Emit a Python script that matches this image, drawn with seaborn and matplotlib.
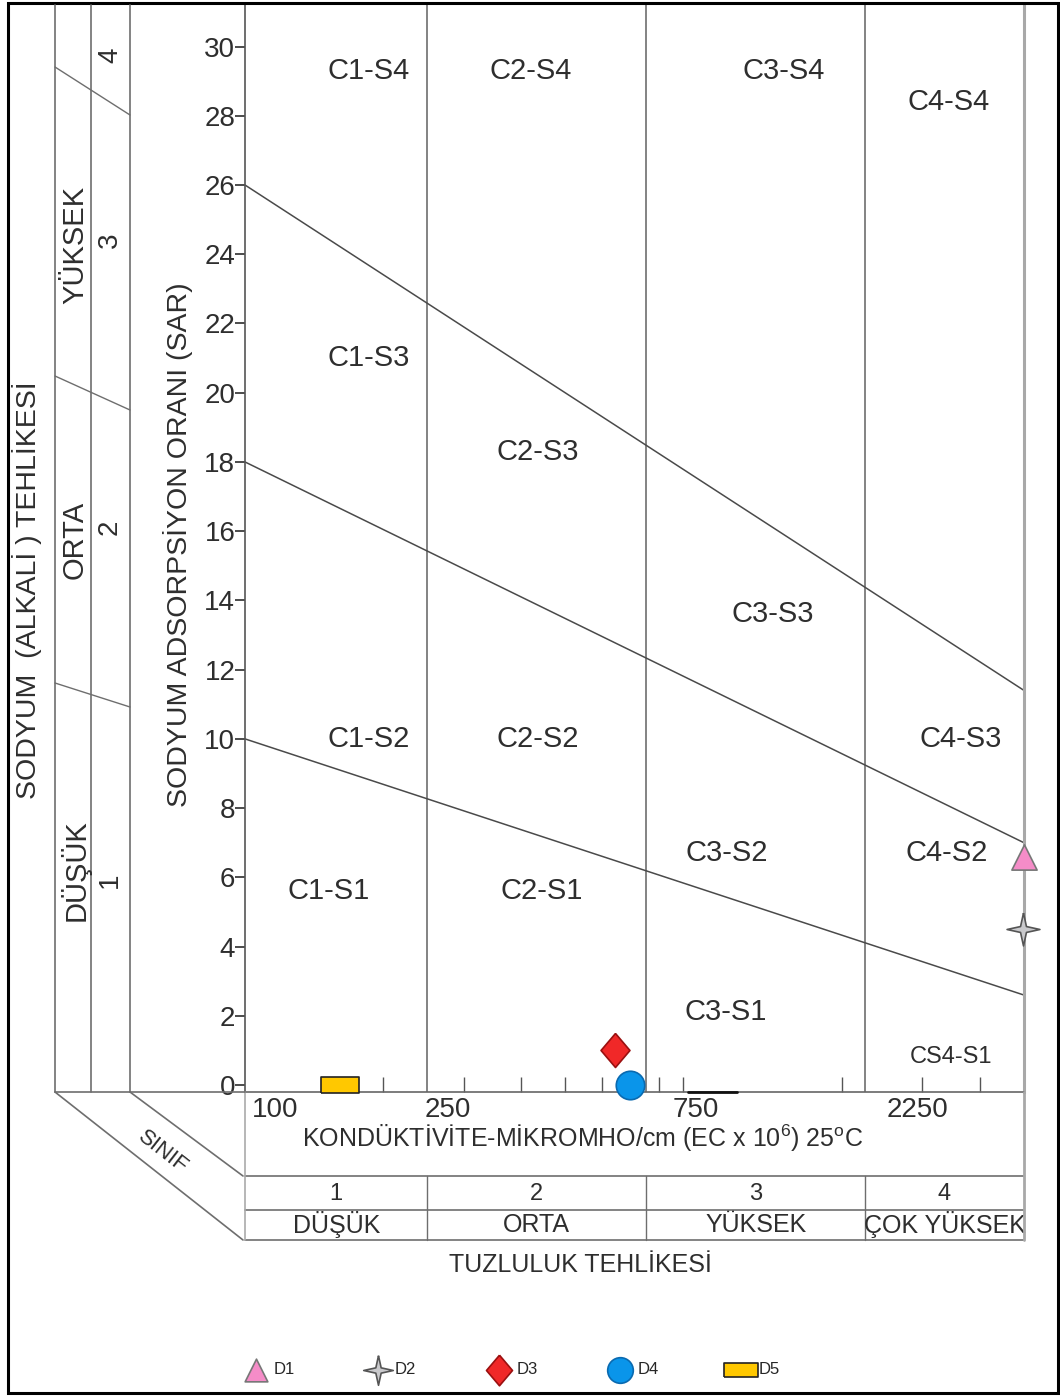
import matplotlib
matplotlib.use("Agg")
import matplotlib.pyplot as plt
import matplotlib.transforms as mtransforms
from matplotlib.lines import Line2D
from matplotlib.patches import Rectangle
from matplotlib.path import Path
from matplotlib.ticker import NullLocator
import numpy as np
import seaborn as sns

# ---- data ----
SAMPLES = ["D1", "D2", "D3", "D4", "D5"]
EC_VALUES = [5000, 4970, 640, 690, 161]      # micromho/cm
SAR_VALUES = [6.6, 4.5, 1.0, 0.0, 0.0]

EC_LIMITS = [100, 250, 750, 2250, 5000]
EC_LABELS = ["100", "250", "750", "2250"]
EC_SMALL_TICKS = [200, 300, 400, 500, 600, 700, 800, 900, 2000, 3000, 4000]
SAR_TICKS = list(range(0, 31, 2))

# sodium hazard boundaries (SAR at EC=100 and at EC=5000)
SAR_LINE_LEFT = [10, 18, 26]
SAR_LINE_RIGHT = [2.6, 7.0, 11.4]

SALINITY_CLASSES = ["1", "2", "3", "4"]
SALINITY_NAMES = ["DÜŞÜK", "ORTA", "YÜKSEK", "ÇOK YÜKSEK"]
SODIUM_CLASSES = ["1", "2", "3", "4"]
SODIUM_NAMES = ["DÜŞÜK", "ORTA", "YÜKSEK"]

ZONE_NAMES = ["C1-S4", "C2-S4", "C3-S4", "C4-S4",
              "C1-S3", "C2-S3", "C3-S3", "C4-S3",
              "C1-S2", "C2-S2", "C3-S2", "C4-S2",
              "C1-S1", "C2-S1", "C3-S1", "CS4-S1"]
# label anchor points (EC, SAR)
ZONE_EC = [186, 419, 1495, 3430, 186, 434, 1415, 3640,
           186, 436, 1122, 3394, 152, 443, 1117, 3460]
ZONE_SAR = [29.3, 29.3, 29.3, 28.4, 21.0, 18.3, 13.6, 10.0,
            10.0, 10.0, 6.7, 6.7, 5.6, 5.6, 2.1, 0.8]

# ---- layout ----
W, H = 1060, 1396
LINE = "#6e6e6e"
TXT = "#2e2e2e"
FONTS = ["Liberation Sans", "DejaVu Sans"]

sns.set_theme(style="white")
plt.rcParams["font.family"] = FONTS
plt.rcParams["mathtext.fontset"] = "custom"
plt.rcParams["mathtext.rm"] = "Liberation Sans"


def fx(px):
    return px / W


def fy(py):
    return 1 - py / H


def fline(fig, xs, ys, color=LINE, lw=1.2):
    fig.add_artist(Line2D([fx(x) for x in xs], [fy(y) for y in ys],
                          color=color, lw=lw, transform=fig.transFigure))


fig = plt.figure(figsize=(W / 100, H / 100), dpi=100)
ax = fig.add_axes([fx(245), fy(1092), (1024 - 245) / W, (1092 - 5) / H])
ax.set_xscale("log")
ax.set_xlim(EC_LIMITS[0], EC_LIMITS[-1])
ax.set_ylim(-0.2, 31.2)

ax.spines["top"].set_visible(False)
ax.spines["left"].set_color("#555555")
ax.spines["left"].set_linewidth(1.2)
ax.spines["bottom"].set_color("#666666")
ax.spines["bottom"].set_linewidth(1.2)
ax.spines["right"].set_color("#a8a8a8")
ax.spines["right"].set_linewidth(2.2)

ax.set_yticks(SAR_TICKS)
ax.set_yticklabels([str(v) for v in SAR_TICKS])
ax.tick_params(axis="y", direction="out", length=7, width=1.2, pad=0,
               labelsize=20, colors=TXT, left=True)
ax.set_xticks(EC_SMALL_TICKS)
ax.xaxis.set_minor_locator(NullLocator())
ax.tick_params(axis="x", direction="in", length=11, width=1.0, color="#555555",
               labelbottom=False, bottom=True)
ax.grid(False)

# salinity class boundaries
for b in EC_LIMITS[1:-1]:
    ax.axvline(b, color=LINE, lw=1.2, zorder=1)

# sodium hazard boundaries
for left, right in zip(SAR_LINE_LEFT, SAR_LINE_RIGHT):
    ax.plot([EC_LIMITS[0], EC_LIMITS[-1]], [left, right], color="#4a4a4a",
            lw=1.1, zorder=1)

# zone labels
for name, ec, sar in zip(ZONE_NAMES, ZONE_EC, ZONE_SAR):
    ax.text(ec, sar, name, ha="center", va="center", color=TXT,
            fontsize=17 if name == "CS4-S1" else 21)

# samples
star = Path([(0, 1), (0.18, 0.18), (1, 0), (0.18, -0.18), (0, -1),
             (-0.18, -0.18), (-1, 0), (-0.18, 0.18), (0, 1)])
diamond = Path([(0, 1), (0.85, 0), (0, -1), (-0.85, 0), (0, 1)])
rect = Path([(-1.2, -0.5), (1.2, -0.5), (1.2, 0.5), (-1.2, 0.5), (-1.2, -0.5)])
styles = {
    "D1": dict(marker="^", s=330, color="#f58cc8", edgecolor="#777777"),
    "D2": dict(marker=star, s=560, color="#c9c9cc", edgecolor="#555555"),
    "D3": dict(marker=diamond, s=600, color="#f02828", edgecolor="#9a1010"),
    "D4": dict(marker="o", s=420, color="#0a95ea", edgecolor="#0a6ab0"),
    "D5": dict(marker=rect, s=750, color="#ffc800", edgecolor="#222222"),
}
for name, ec, sar in zip(SAMPLES, EC_VALUES, SAR_VALUES):
    st = styles[name]
    sns.scatterplot(x=[ec], y=[sar], ax=ax, label=name, legend=False,
                    linewidth=1.2, clip_on=False, zorder=6, **st)
ax.set_xlabel("")
ax.set_ylabel("")

# EC values below the axis
label_shift = [30, 20, 50, 53]
for val, txt, dx in zip(EC_LIMITS[:-1], EC_LABELS, label_shift):
    ax.annotate(txt, xy=(val, 0), xycoords=("data", "axes fraction"),
                xytext=(dx, -18), textcoords="offset pixels",
                ha="center", va="center", fontsize=20, color=TXT)

# salinity class table below
bt = mtransforms.blended_transform_factory(ax.transData, ax.transAxes)
y_top = -(1176 - 1092) / (1092 - 5)
y_mid = -(1210 - 1092) / (1092 - 5)
y_bot = -(1240 - 1092) / (1092 - 5)
for b in EC_LIMITS[1:-1]:
    ax.plot([b, b], [y_top, y_bot], color=LINE, lw=1.0, transform=bt,
            clip_on=False)
bounds = np.array(EC_LIMITS, dtype=float)
centers = np.sqrt(bounds[:-1] * bounds[1:])
for c, num, nm in zip(centers, SALINITY_CLASSES, SALINITY_NAMES):
    ax.text(c, (y_top + y_mid) / 2 - 0.001, num, transform=bt, ha="center",
            va="center", fontsize=17, color=TXT)
    ax.text(c, (y_mid + y_bot) / 2, nm, transform=bt, ha="center",
            va="center", fontsize=18, color=TXT)

for y in [1176, 1210, 1240]:
    fline(fig, [245, 1024], [y, y], lw=1.2)
fline(fig, [245, 245], [1092, 1240], color="#aaaaaa")
fline(fig, [1024, 1024], [1092, 1240], color="#a8a8a8", lw=2.0)
fline(fig, [688, 737], [1092, 1092], color="#111111", lw=2.0)

# left sodium hazard panel
for x in [55, 91, 130]:
    fline(fig, [x, x], [5, 1092])
fline(fig, [55, 245], [1092, 1092])
for y0, y1 in [(67, 115), (376, 410), (683, 707)]:
    fline(fig, [55, 130], [y0, y1], lw=1.0)
fline(fig, [55, 243], [1092, 1240])
fline(fig, [130, 243], [1092, 1176])

for num, yy in zip(SODIUM_CLASSES[::-1], [55, 240, 527, 880]):
    fig.text(fx(110), fy(yy), num, rotation=90, ha="center", va="center",
             fontsize=20, color=TXT)
for nm, yy in zip(SODIUM_NAMES[::-1], [245, 540, 870]):
    fig.text(fx(75), fy(yy), nm, rotation=90, ha="center", va="center",
             fontsize=21, color=TXT)
fig.text(fx(27), fy(590), "SODYUM  (ALKALİ ) TEHLİKESİ", rotation=90,
         ha="center", va="center", fontsize=20.5, color=TXT)
fig.text(fx(178), fy(545), "SODYUM ADSORPSİYON ORANI (SAR)", rotation=90,
         ha="center", va="center", fontsize=20.5, color=TXT)
fig.text(fx(163), fy(1152), "SINIF", rotation=-38, ha="center", va="center",
         fontsize=16, color=TXT)

fig.text(fx(583), fy(1138),
         "KONDÜKTİVİTE-MİKROMHO/cm (EC x 10$^{6}$) 25$^{\\rm o}$C",
         ha="center", va="center", fontsize=18, color=TXT)
fig.text(fx(580), fy(1265), "TUZLULUK TEHLİKESİ", ha="center", va="center",
         fontsize=18, color=TXT)

# legend
handles, labels = ax.get_legend_handles_labels()
fig.legend(handles, labels, loc="center", bbox_to_anchor=(fx(512), fy(1370)),
           ncol=5, frameon=False, fontsize=12, markerscale=0.9,
           handlelength=1.5, handletextpad=0.3, columnspacing=4.2,
           scatterpoints=1)

# outer frame
fig.add_artist(Rectangle((fx(8), fy(1393)), fx(1058) - fx(8), fy(3) - fy(1393),
                         transform=fig.transFigure, fill=False,
                         edgecolor="black", lw=2.2))

fig.savefig("out.png", dpi=100)
